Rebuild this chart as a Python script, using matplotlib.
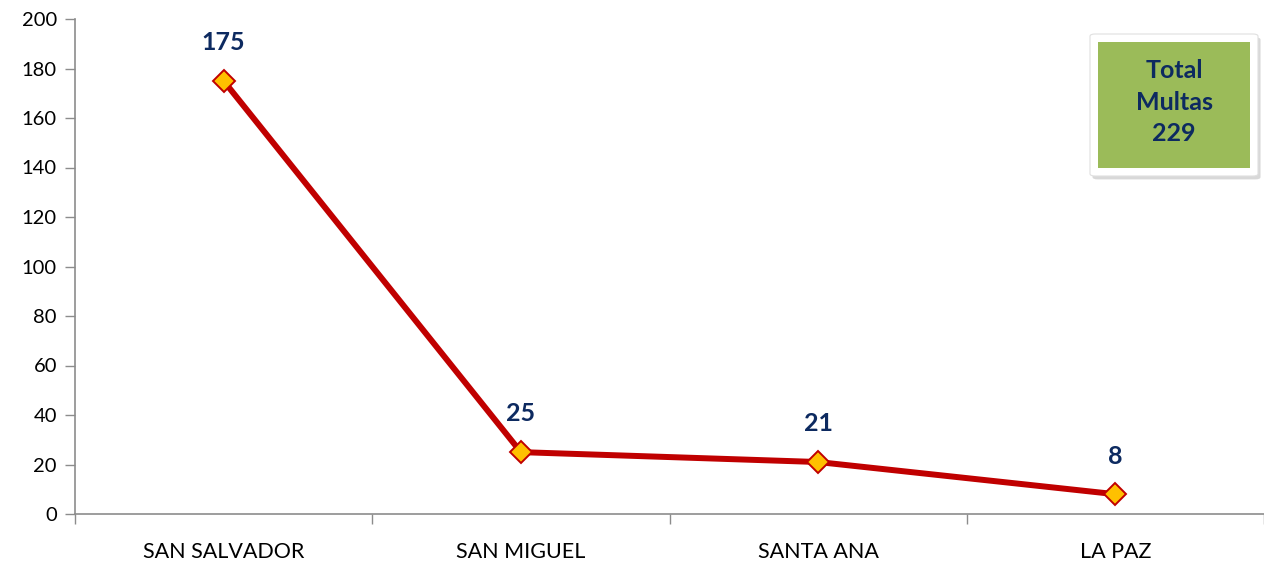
import matplotlib.pyplot as plt
from matplotlib.patches import FancyBboxPatch, Rectangle

departamentos = ['SAN SALVADOR', 'SAN MIGUEL', 'SANTA ANA', 'LA PAZ']
multas = [175, 25, 21, 8]
total_multas = 229

plt.rcParams['font.family'] = ['Lato', 'DejaVu Sans']

fig = plt.figure(figsize=(12.64, 5.65), dpi=100)
W, H = 1264, 565
ax = fig.add_axes([75 / W, 1 - 514 / H, (W - 75) / W, (514 - 19) / H])

x = list(range(len(departamentos)))
ax.plot(x, multas, color='#C00000', lw=4.3, marker='D', ms=11,
        markerfacecolor='#FFC000', markeredgecolor='#C00000', markeredgewidth=1.4,
        zorder=3, clip_on=False)

for xi, v in zip(x, multas):
    ax.annotate(str(v), (xi, v), xytext=(0, 27.5), textcoords='offset points',
                ha='center', va='center', fontsize=18, fontweight='bold',
                color='#0D2A60')

ax.set_ylim(0, 200)
ax.set_yticks(range(0, 201, 20))
ax.set_xlim(-0.5, (W - 75) / 299 - 0.5)
ax.set_xticks(x)
ax.set_xticklabels(departamentos)
ax.set_xticks([-0.5, 0.5, 1.5, 2.5, 3.5], minor=True)
ax.tick_params(axis='x', which='major', length=0, pad=20, labelsize=15.5)
ax.tick_params(axis='x', which='minor', length=7, color='#8C8C8C', width=1)
ax.tick_params(axis='y', length=7, color='#8C8C8C', width=1, labelsize=14.5, pad=6)

for s in ['top', 'right']:
    ax.spines[s].set_visible(False)
for s in ['left', 'bottom']:
    ax.spines[s].set_color('#8C8C8C')
    ax.spines[s].set_linewidth(1.2)

# caja de total
bx0, by0, bx1, by1 = 1090, 34, 1258, 176
shadow = FancyBboxPatch((bx0 / W + 0.002, 1 - by1 / H - 0.006), (bx1 - bx0) / W, (by1 - by0) / H,
                        boxstyle='round,pad=0,rounding_size=0.004', transform=fig.transFigure,
                        facecolor='#BFBFBF', edgecolor='none', alpha=0.6, zorder=4)
fig.patches.append(shadow)
frame = FancyBboxPatch((bx0 / W, 1 - by1 / H), (bx1 - bx0) / W, (by1 - by0) / H,
                       boxstyle='round,pad=0,rounding_size=0.004', transform=fig.transFigure,
                       facecolor='white', edgecolor='#E0E0E0', lw=0.8, zorder=5)
fig.patches.append(frame)
gx0, gy0, gx1, gy1 = 1098, 42, 1250, 168
green = Rectangle((gx0 / W, 1 - gy1 / H), (gx1 - gx0) / W, (gy1 - gy0) / H,
                  transform=fig.transFigure, facecolor='#9BBB59', edgecolor='none', zorder=6)
fig.patches.append(green)
fig.text((gx0 + gx1) / 2 / W, 1 - 102 / H, 'Total\nMultas\n' + str(total_multas),
         ha='center', va='center', fontsize=18, fontweight='bold', color='#0D2A60',
         linespacing=1.45, zorder=7)

fig.savefig('out.png', dpi=100)
